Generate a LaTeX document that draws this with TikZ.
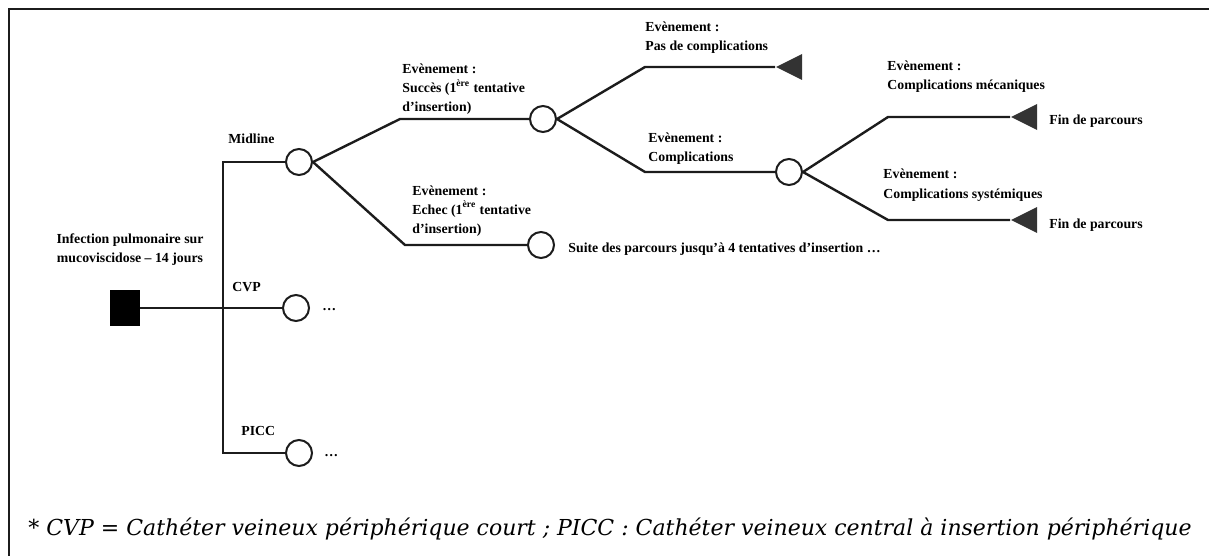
\documentclass[tikz,border=0pt]{standalone}
\usepackage{fontspec}
\setmainfont{Liberation Serif}
\newfontfamily\notefont{DejaVu Serif}
\usepackage{tikz}
\usetikzlibrary{shapes.geometric, positioning}
\definecolor{treeink}{HTML}{1C1C1C}
\definecolor{termgrey}{HTML}{333333}

\begin{document}
\begin{tikzpicture}[x=0.5pt, y=-0.5pt,
  font=\fontsize{6.9}{9.5}\selectfont\bfseries,
  edge/.style={treeink, line width=1.2pt},
  chance/.style={circle, draw=treeink, line width=1pt, fill=white,
                 minimum size=13pt, inner sep=0},
  decision/.style={rectangle, fill=black, minimum width=15pt,
                   minimum height=18pt, inner sep=0},
  term/.style={isosceles triangle, shape border rotate=180, fill=termgrey,
               isosceles triangle stretches, minimum width=13pt,
               minimum height=13pt, inner sep=0, anchor=apex},
  lbl/.style={anchor=base west, align=left, inner sep=0}]

\useasboundingbox (0,0) rectangle (1209,556);

% ---- frame (cut on the right and at the bottom)
\draw[treeink, line width=1.2pt] (9,556) -- (9,9) -- (1209,9);

% ============================================== decision
% (multi-line labels are placed by the baseline of their last line)
\node[decision] (root) at (125,308) {};
\node[lbl, align=center, anchor=base] (lRoot) at (130,262)
  {Infection pulmonaire sur\\mucoviscidose -- 14 jours};
\coordinate (split) at (223,308);

\node[chance] (mid)  at (299,162) {};
\node[chance] (cvp)  at (296,308) {};
\node[chance] (picc) at (299,453) {};

\draw[edge] (root) -- (cvp);
\draw[edge] (mid) -| (split) |- (picc);

\node[lbl] (lMid)  at (228,143) {Midline};
\node[lbl] (lCvp)  at (232,291) {CVP};
\node[lbl] (lPicc) at (241,435) {PICC};
\node[lbl] (dCvp)  at (322,310) {…};
\node[lbl] (dPicc) at (324,456) {…};

% ============================================== 1st attempt
\node[chance] (succ)  at (543,119) {};
\node[chance] (echec) at (541,245) {};
\coordinate (kSucc) at (400,119);
\coordinate (kEch)  at (405,245);
\draw[edge] (mid.east) -- (kSucc) -- (succ);
\draw[edge] (mid.east) -- (kEch) -- (echec);

\node[lbl] (lSucc) at (402,112)
  {Evènement :\\Succès (1\textsuperscript{ère} tentative\\d’insertion)};
\node[lbl] (lEch) at (412,233)
  {Evènement :\\Echec (1\textsuperscript{ère} tentative\\d’insertion)};
\node[lbl] (lSuite) at (568,252)
  {Suite des parcours jusqu’à 4 tentatives d’insertion …};

% ============================================== after success
\node[term] (tPas) at (775,67) {};
\node[chance] (comp) at (789,172) {};
\coordinate (kPas)  at (645,67);
\coordinate (kComp) at (645,172);
\draw[edge] (succ.east) -- (kPas) -- (tPas.apex);
\draw[edge] (succ.east) -- (kComp) -- (comp);

\node[lbl] (lPas)  at (645,51)  {Evènement :\\Pas de complications};
\node[lbl] (lComp) at (648,162) {Evènement :\\Complications};

% ============================================== complications
\node[term] (tMec) at (1010,117) {};
\node[term] (tSys) at (1010,220) {};
\coordinate (kMec) at (888,117);
\coordinate (kSys) at (888,220);
\draw[edge] (comp.east) -- (kMec) -- (tMec.apex);
\draw[edge] (comp.east) -- (kSys) -- (tSys.apex);

\node[lbl] (lMec) at (887,90)  {Evènement :\\Complications mécaniques};
\node[lbl] (lSys) at (883,198) {Evènement :\\Complications systémiques};
\node[lbl] (fMec) at (1049,125) {Fin de parcours};
\node[lbl] (fSys) at (1049,228) {Fin de parcours};

% ---- footnote
\node[anchor=base west, inner sep=0,
      font=\notefont\itshape\fontsize{11}{13}\selectfont] (note) at (28,535)
  {* CVP = Cathéter veineux périphérique court ; PICC : Cathéter veineux central à insertion périphérique};

\end{tikzpicture}
\end{document}
